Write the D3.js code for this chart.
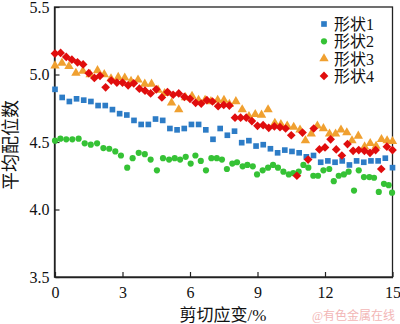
<!DOCTYPE html>
<html><head><meta charset="utf-8">
<script src="https://cdn.jsdelivr.net/npm/d3@7"></script>
<style>
html,body{margin:0;padding:0;background:#fff;}
svg{display:block;}
text{font-family:"Liberation Serif","Noto Sans CJK SC",serif;fill:#111;}
</style></head>
<body>
<svg id="chart" width="400" height="324"></svg>
<script>
// ---- data ----
const seriesNames = ["形状1", "形状2", "形状3", "形状4"];
const xTicks = [0, 3, 6, 9, 12, 15];
const yTicks = [3.5, 4.0, 4.5, 5.0, 5.5];

// 形状1: 48 evenly spaced strains 0..15
const shape1Y = [4.89,4.83,4.80,4.82,4.81,4.80,4.77,4.77,4.74,4.71,
  4.70,4.66,4.63,4.63,4.67,4.66,4.60,4.59,4.60,4.63,
  4.63,4.59,4.52,4.60,4.55,4.58,4.495,4.51,4.47,4.48,
  4.45,4.42,4.44,4.43,4.42,4.39,4.40,4.35,4.36,4.35,
  4.36,4.33,4.36,4.35,4.36,4.36,4.38,4.31];

// 形状2
const shape2X = [0,0.24,0.50,0.77,1.05,1.32,1.59,1.87,2.15,2.41,2.68,2.93,3.21,3.45,3.72,3.99,4.25,4.53,4.80,5.07,
  5.32,5.56,5.81,6.03,6.24,6.48,6.71,6.95,7.19,7.42,7.64,7.88,8.09,8.34,8.55,8.79,8.98,9.23,9.47,9.69,
  9.91,10.15,10.39,10.59,10.83,11.04,11.26,11.48,11.69,11.93,12.19,12.39,12.61,12.84,13.05,13.29,13.50,13.73,13.97,14.18,
  14.39,14.62,14.83,14.98];
const shape2Y = [4.51,4.525,4.52,4.52,4.525,4.49,4.48,4.49,4.455,4.45,4.43,4.40,4.31,4.38,4.42,4.41,4.37,4.29,4.38,4.37,
  4.38,4.37,4.39,4.34,4.40,4.36,4.29,4.38,4.38,4.37,4.30,4.34,4.35,4.32,4.33,4.32,4.26,4.29,4.31,4.33,
  4.31,4.28,4.26,4.27,4.28,4.33,4.31,4.25,4.25,4.29,4.30,4.21,4.25,4.26,4.28,4.14,4.29,4.24,4.24,4.235,
  4.13,4.19,4.18,4.125];

// 形状3
const shape3X = [0,0.31,0.62,0.93,1.24,1.56,1.89,2.19,2.49,2.81,3.10,3.38,3.69,3.99,4.29,4.58,4.87,5.18,5.50,5.80,
  6.09,6.38,6.67,6.93,7.23,7.51,7.75,8.04,8.32,8.62,8.90,9.18,9.47,9.77,10.04,10.32,10.61,10.89,11.13,11.39,
  11.66,11.93,12.20,12.47,12.71,12.97,13.20,13.48,13.76,14.01,14.27,14.51,14.76,15.0];
const shape3Y = [5.065,5.085,5.06,5.01,5.025,5.00,5.03,5.00,4.97,4.98,4.975,4.95,4.96,4.93,4.93,4.885,4.86,4.79,4.74,4.83,
  4.84,4.81,4.81,4.80,4.81,4.81,4.78,4.80,4.74,4.69,4.705,4.70,4.74,4.64,4.63,4.62,4.61,4.59,4.51,4.56,
  4.62,4.60,4.56,4.56,4.59,4.57,4.51,4.545,4.465,4.49,4.47,4.52,4.51,4.505];

// 形状4: 61 strains 0..15 step 0.25
const shape4Y = [5.155,5.16,5.13,5.11,5.09,5.075,5.01,4.975,4.99,4.905,
  4.955,4.94,4.94,4.92,4.935,4.895,4.88,4.86,4.89,4.83,
  4.87,4.85,4.86,4.835,4.82,4.79,4.785,4.81,4.80,4.765,
  4.775,4.77,4.68,4.68,4.68,4.655,4.62,4.625,4.605,4.615,
  4.61,4.60,4.55,4.25,4.57,4.37,4.60,4.445,4.46,4.52,
  4.445,4.40,4.485,4.435,4.44,4.435,4.42,4.44,4.30,4.465,4.44];

const shape1X = shape1Y.map((d, i) => i * 15 / (shape1Y.length - 1));
const shape4X = shape4Y.map((d, i) => i * 0.25);

const colors = ["#2d7cc6", "#35c235", "#f0a030", "#e00d0d"];
const symbols = [d3.symbolSquare, d3.symbolCircle, d3.symbolTriangle, d3.symbolSquare];
const sizes = [32, 30, 38, 38];
const rotations = [0, 0, 0, 45];

const series = [
  {name: seriesNames[0], xs: shape1X, ys: shape1Y},
  {name: seriesNames[1], xs: shape2X, ys: shape2Y},
  {name: seriesNames[2], xs: shape3X, ys: shape3Y},
  {name: seriesNames[3], xs: shape4X, ys: shape4Y}
];

// ---- layout ----
const svg = d3.select("#chart");
const L = 54.5, R = 392.5, T = 7, B = 277;
const x = d3.scaleLinear().domain([0, 15]).range([L + 0.5, R]);
const y = d3.scaleLinear().domain([3.5, 5.5]).range([B, T]);

// frame
svg.append("rect").attr("x", L).attr("y", T).attr("width", R - L).attr("height", B - T)
  .attr("fill", "none").attr("stroke", "#222").attr("stroke-width", 1.3);

// axes (ticks inward)
const xAxis = d3.axisBottom(x).tickValues(xTicks).tickFormat(d3.format("d")).tickSizeInner(-5).tickSizeOuter(0).tickPadding(10);
const gx = svg.append("g").attr("transform", `translate(0,${B})`).call(xAxis);
gx.select(".domain").attr("stroke", "#222").attr("stroke-width", 1.3);
gx.selectAll(".tick line").attr("stroke", "#222").attr("stroke-width", 1.2);
gx.selectAll("text").attr("font-size", 16).attr("font-family", "Liberation Serif").attr("fill", "#111");

const yAxis = d3.axisLeft(y).tickValues(yTicks).tickFormat(d3.format(".1f")).tickSizeInner(-5).tickSizeOuter(0).tickPadding(5);
const gy = svg.append("g").attr("transform", `translate(${L},0)`).call(yAxis);
gy.select(".domain").attr("stroke", "#222").attr("stroke-width", 1.3);
gy.selectAll(".tick line").attr("stroke", "#222").attr("stroke-width", 1.2);
gy.selectAll("text").attr("font-size", 16).attr("font-family", "Liberation Serif").attr("fill", "#111");

// points
series.forEach((s, k) => {
  const pts = s.xs.map((xv, i) => [xv, s.ys[i]]);
  svg.append("g").selectAll("path").data(pts).join("path")
    .attr("transform", d => `translate(${x(d[0])},${y(d[1])}) rotate(${rotations[k]})`)
    .attr("d", d3.symbol().type(symbols[k]).size(sizes[k]))
    .attr("fill", colors[k]);
});

// legend
const lg = svg.append("g").attr("transform", "translate(324,24)");
seriesNames.forEach((n, k) => {
  const row = lg.append("g").attr("transform", `translate(0,${k * 17.3})`);
  row.append("path").attr("transform", `rotate(${rotations[k]})`)
    .attr("d", d3.symbol().type(symbols[k]).size(sizes[k])).attr("fill", colors[k]);
  row.append("text").attr("x", 10).attr("y", 6).attr("font-size", 16).text(n);
});

// axis titles
svg.append("text").attr("x", 223).attr("y", 321).attr("text-anchor", "middle")
  .attr("font-size", 17).text("剪切应变/%");
svg.append("text").attr("transform", "translate(17,145) rotate(-90)").attr("text-anchor", "middle")
  .attr("font-size", 18).text("平均配位数");

// watermark
svg.append("text").attr("x", 395).attr("y", 320).attr("text-anchor", "end")
  .attr("font-size", 12).attr("font-family", "Noto Sans CJK SC").style("fill", "#f2b6b6").text("@有色金属在线");
</script>
</body></html>
